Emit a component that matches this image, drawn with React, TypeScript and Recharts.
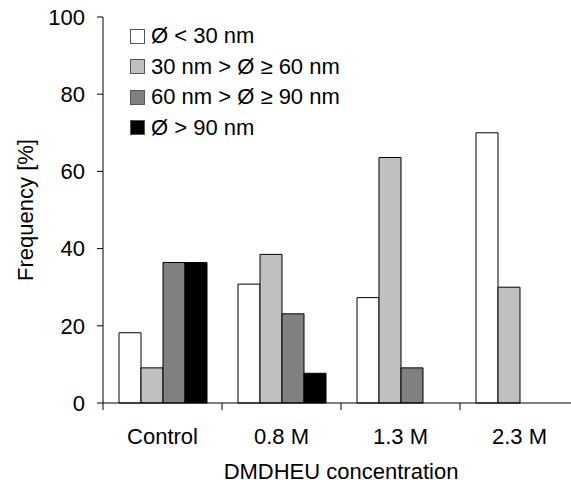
import { BarChart, Bar, XAxis, YAxis, Legend } from "recharts";

const categories = ["Control", "0.8 M", "1.3 M", "2.3 M"];
const under30 = [18.2, 30.8, 27.3, 70];
const from30to60 = [9.1, 38.5, 63.6, 30];
const from60to90 = [36.4, 23.1, 9.1, 0];
const over90 = [36.4, 7.7, 0, 0];
const yTicks = [0, 20, 40, 60, 80, 100];

const series = [
  { key: "a", name: "Ø < 30 nm", fill: "#ffffff" },
  { key: "b", name: "30 nm > Ø ≥ 60 nm", fill: "#c0c0c0" },
  { key: "c", name: "60 nm > Ø ≥ 90 nm", fill: "#808080" },
  { key: "d", name: "Ø > 90 nm", fill: "#000000" },
];

const data = categories.map((name, i) => ({
  name,
  a: under30[i],
  b: from30to60[i],
  c: from60to90[i],
  d: over90[i],
}));

const FONT = "'Liberation Sans', Arial, sans-serif";
const CHART_W = 600;
const MARGIN_R = 21;
const Y_AXIS_W = 103;
const LABEL_GAP = 25;
// width of one category band, ticks sit on band edges
const BAND = (CHART_W - MARGIN_R - Y_AXIS_W) / categories.length;

function CategoryTick(props: any) {
  const { x, y, payload } = props;
  const axisY = y - LABEL_GAP;
  const left = x - BAND / 2;
  return (
    <g>
      <line x1={left} x2={left} y1={axisY} y2={axisY + 7} stroke="#000" />
      <text x={x} y={y} dy={16} textAnchor="middle" fill="#000" fontSize={22}>
        {payload.value}
      </text>
    </g>
  );
}

function LegendBox() {
  return (
    <div style={{ fontFamily: FONT, fontSize: 22, color: "#000", textAlign: "left" }}>
      {series.map((s) => (
        <div key={s.key} style={{ display: "flex", alignItems: "center", height: 30.5 }}>
          <span
            style={{
              display: "inline-block",
              width: 13,
              height: 13,
              background: s.fill,
              border: "1px solid #555",
              marginRight: 6,
            }}
          />
          <span>{s.name}</span>
        </div>
      ))}
    </div>
  );
}

export default function App() {
  return (
    <div
      style={{
        position: "absolute",
        left: 0,
        top: 0,
        width: 571,
        height: 486,
        overflow: "hidden",
        background: "#fff",
        fontFamily: FONT,
      }}
    >
      <BarChart
        width={CHART_W}
        height={486}
        data={data}
        margin={{ top: 17, right: MARGIN_R, left: 0, bottom: 0 }}
        barCategoryGap={16}
        barGap={0}
      >
        <XAxis
          dataKey="name"
          height={83}
          axisLine={{ stroke: "#000" }}
          tickLine={false}
          tickSize={0}
          tickMargin={LABEL_GAP}
          tick={<CategoryTick />}
          label={{
            value: "DMDHEU concentration",
            position: "insideBottom",
            offset: 7,
            fill: "#000",
            fontSize: 22,
          }}
        />
        <YAxis
          width={Y_AXIS_W}
          domain={[0, 100]}
          ticks={yTicks}
          axisLine={{ stroke: "#000" }}
          tickLine={{ stroke: "#000" }}
          tickSize={6}
          tickMargin={12}
          tick={{ fill: "#000", fontSize: 22 }}
          label={{
            value: "Frequency [%]",
            angle: -90,
            position: "center",
            dx: -26,
            fill: "#000",
            fontSize: 22,
          }}
        />
        <Legend
          verticalAlign="middle"
          align="center"
          layout="vertical"
          content={() => <LegendBox />}
          wrapperStyle={{ top: 21, left: 130, width: "auto" }}
        />
        {series.map((s) => (
          <Bar
            key={s.key}
            dataKey={s.key}
            name={s.name}
            fill={s.fill}
            stroke="#000"
            strokeWidth={1}
            isAnimationActive={false}
          />
        ))}
      </BarChart>
    </div>
  );
}
